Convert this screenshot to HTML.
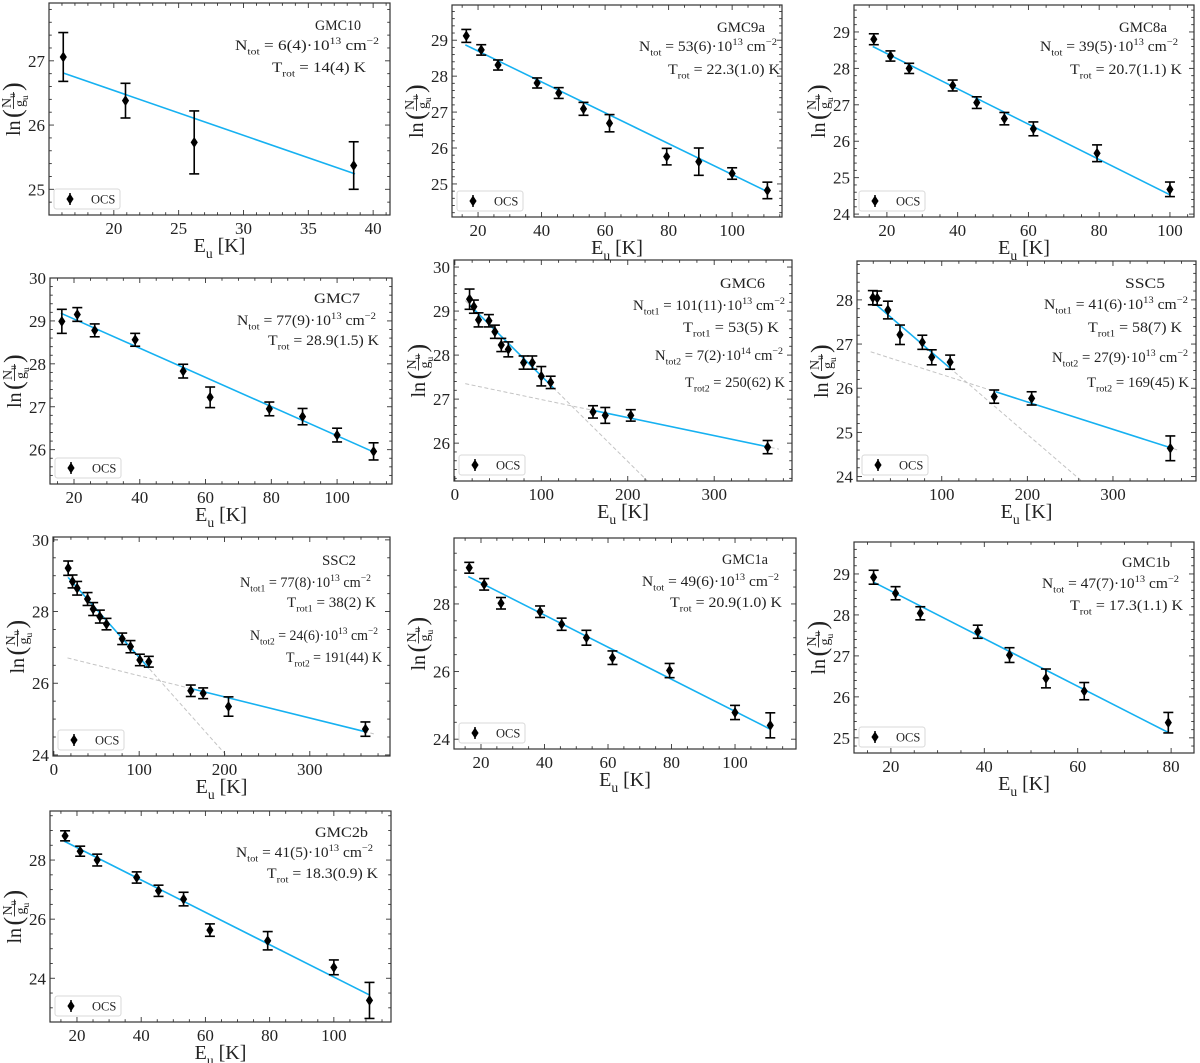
<!DOCTYPE html>
<html><head><meta charset="utf-8">
<style>
html,body{margin:0;padding:0;background:#fff;}
svg{display:block;font-family:"Liberation Serif","DejaVu Serif",serif;}
</style></head>
<body>
<svg id="fig" width="1200" height="1063" viewBox="0 0 1200 1063" xmlns="http://www.w3.org/2000/svg">
<rect x="0" y="0" width="1200" height="1063" fill="#fff"/>
</svg>
<script>
// ---------- data ----------
const gmc10_E=[16.1,20.9,26.2,38.5];
const gmc10_ln=[27.06,26.38,25.73,25.37];
const gmc10_err=[0.38,0.27,0.49,0.37];
const gmc10_fitE=[16.1,38.6];
const gmc10_fitLn=[26.81,25.24];
const gmc10_xticks=[20,25,30,35,40];
const gmc10_yticks=[25,26,27];

const gmc9a_E=[16.3,21.0,26.3,38.6,45.4,53.2,61.4,79.4,89.5,100.0,111.1];
const gmc9a_ln=[29.12,28.73,28.31,27.81,27.53,27.09,26.69,25.76,25.62,25.29,24.82];
const gmc9a_err=[0.18,0.145,0.14,0.14,0.15,0.18,0.24,0.23,0.38,0.16,0.23];
const gmc9a_fitE=[16.0,111.0];
const gmc9a_fitLn=[28.87,24.79];
const gmc9a_xticks=[20,40,60,80,100];
const gmc9a_yticks=[25,26,27,28,29];

const gmc8a_E=[16.3,21.0,26.3,38.6,45.4,53.2,61.4,79.4,100.0];
const gmc8a_ln=[28.80,28.34,28.00,27.53,27.06,26.62,26.34,25.67,24.68];
const gmc8a_err=[0.15,0.14,0.14,0.15,0.16,0.17,0.19,0.23,0.2];
const gmc8a_fitE=[16.0,100.0];
const gmc8a_fitLn=[28.60,24.53];
const gmc8a_xticks=[20,40,60,80,100];
const gmc8a_yticks=[24,25,26,27,28,29];

const gmc7_E=[16.3,21.0,26.3,38.6,53.2,61.4,79.4,89.5,100.0,111.1];
const gmc7_ln=[28.99,29.15,28.78,28.56,27.83,27.22,26.95,26.77,26.34,25.96];
const gmc7_err=[0.28,0.16,0.15,0.15,0.16,0.24,0.16,0.19,0.16,0.2];
const gmc7_fitE=[16.0,111.0];
const gmc7_fitLn=[29.18,25.95];
const gmc7_xticks=[20,40,60,80,100];
const gmc7_yticks=[26,27,28,29,30];

const gmc6_E=[17,22,27.4,39.4,46.3,53.7,61.8,79.5,89.6,100,110.8,159.8,174,203.5,361.8];
const gmc6_ln=[29.27,29.10,28.80,28.78,28.53,28.23,28.13,27.83,27.83,27.52,27.38,26.71,26.63,26.63,25.91];
const gmc6_err=[0.23,0.15,0.16,0.14,0.15,0.15,0.17,0.15,0.15,0.22,0.14,0.14,0.18,0.13,0.15];
const gmc6_slope=[-0.01943,-0.0041];
const gmc6_icpt=[29.47,27.40];
const gmc6_range1=[17,114.3];
const gmc6_range2=[161,362];
const gmc6_dash=[12,375];
const gmc6_xticks=[0,100,200,300];
const gmc6_yticks=[26,27,28,29,30];

const ssc5_E=[19.5,24.6,37.1,51.2,77.3,88.3,109.8,161.3,205,367];
const ssc5_ln=[28.05,28.04,27.77,27.21,27.04,26.70,26.59,25.81,25.77,24.64];
const ssc5_err=[0.16,0.16,0.2,0.22,0.16,0.17,0.16,0.15,0.15,0.28];
const ssc5_slope=[-0.01663,-0.0062];
const ssc5_icpt=[28.28,26.93];
const ssc5_range1=[22.7,110.5];
const ssc5_range2=[163,366];
const ssc5_dash=[17,375];
const ssc5_xticks=[100,200,300];
const ssc5_yticks=[24,25,26,27,28];

const ssc2_E=[16.8,21.9,27.3,39.5,46.1,53.9,61.7,80.1,89.8,100.8,111.3,160.5,175,204.7,365.2];
const ssc2_ln=[29.21,28.84,28.65,28.35,28.07,27.86,27.65,27.24,27.02,26.65,26.60,25.79,25.72,25.35,24.72];
const ssc2_err=[0.2,0.18,0.19,0.18,0.18,0.18,0.16,0.16,0.17,0.16,0.15,0.16,0.15,0.27,0.2];
const ssc2_slope=[-0.02677,-0.0059];
const ssc2_icpt=[29.40,26.80];
const ssc2_range1=[16.8,111.3];
const ssc2_range2=[160.5,366];
const ssc2_dash=[16,375];
const ssc2_xticks=[0,100,200,300];
const ssc2_yticks=[24,26,28,30];

const gmc1a_E=[16.3,21.0,26.3,38.6,45.4,53.2,61.4,79.4,100.0,111.1];
const gmc1a_ln=[29.07,28.58,28.02,27.77,27.40,27.00,26.41,26.03,24.79,24.41];
const gmc1a_err=[0.16,0.17,0.17,0.17,0.18,0.22,0.2,0.21,0.21,0.37];
const gmc1a_fitE=[16.0,111.0];
const gmc1a_fitLn=[28.81,24.30];
const gmc1a_xticks=[20,40,60,80,100];
const gmc1a_yticks=[24,26,28];

const gmc1b_E=[16.3,21.0,26.3,38.6,45.4,53.2,61.4,79.4];
const gmc1b_ln=[28.92,28.53,28.04,27.59,27.02,26.45,26.14,25.37];
const gmc1b_err=[0.17,0.16,0.16,0.16,0.18,0.23,0.21,0.25];
const gmc1b_fitE=[16.3,79.4];
const gmc1b_fitLn=[28.80,25.13];
const gmc1b_xticks=[20,40,60,80];
const gmc1b_yticks=[25,26,27,28,29];

const gmc2b_E=[16.3,21.0,26.3,38.6,45.4,53.2,61.4,79.4,100.0,111.1];
const gmc2b_ln=[28.82,28.30,28.00,27.41,26.96,26.68,25.63,25.27,24.37,23.25];
const gmc2b_err=[0.17,0.17,0.2,0.19,0.19,0.23,0.21,0.31,0.25,0.61];
const gmc2b_fitE=[16.0,111.0];
const gmc2b_fitLn=[28.64,23.44];
const gmc2b_xticks=[20,40,60,80,100];
const gmc2b_yticks=[24,26,28];

// ---------- drawing ----------
const NS='http://www.w3.org/2000/svg';
const svg=document.getElementById('fig');
function mk(tag,parent,name,attrs){
  const el=document.createElementNS(NS,tag);
  for(const k in attrs) el.setAttribute(k,attrs[k]);
  
  
  parent.appendChild(el);
  return el;
}
function rich(textEl,str,fs){
  const re=/(_\{[^}]*\}|\^\{[^}]*\})/;
  const parts=str.split(re).filter(s=>s.length);
  let shift=0;
  parts.forEach(p=>{
    const t=document.createElementNS(NS,'tspan');
    let target=0, txt=p;
    if(p.startsWith('_{')){target=fs*0.3;txt=p.slice(2,-1);t.setAttribute('font-size',fs*0.68);}
    else if(p.startsWith('^{')){target=-fs*0.42;txt=p.slice(2,-1);t.setAttribute('font-size',fs*0.68);}
    t.setAttribute('dy',target-shift);
    shift=target;
    t.textContent=txt;
    textEl.appendChild(t);
  });
}
function panel(id,c,d){
  const g=mk('g',svg,'panel-'+id,{});
  const sx=v=>c.L+(v-c.x0)/(c.x1-c.x0)*(c.R-c.L);
  const sy=v=>c.B-(v-c.y0)/(c.y1-c.y0)*(c.B-c.T);
  const clipId='clip-'+id;
  const defs=mk('defs',g,'clip-defs',{});
  const cp=mk('clipPath',defs,'plot-clip',{id:clipId});
  mk('rect',cp,'clip-rect',{x:c.L,y:c.T,width:c.R-c.L,height:c.B-c.T});
  const plot=mk('g',g,'plot-area',{'clip-path':'url(#'+clipId+')'});
  if(d.fitE){
    mk('line',plot,'fit-line',{x1:sx(d.fitE[0]),y1:sy(d.fitLn[0]),x2:sx(d.fitE[1]),y2:sy(d.fitLn[1]),stroke:'#16b1f1','stroke-width':1.6});
  } else {
    for(let k=0;k<2;k++){
      const f=x=>d.icpt[k]+d.slope[k]*x;
      mk('line',plot,'fit-extension-dashed-'+(k+1),{x1:sx(d.dash[0]),y1:sy(f(d.dash[0])),x2:sx(d.dash[1]),y2:sy(f(d.dash[1])),stroke:'#c4c4c4','stroke-width':1,'stroke-dasharray':'4,2.5'});
    }
    [d.range1,d.range2].forEach((r,k)=>{
      const f=x=>d.icpt[k]+d.slope[k]*x;
      mk('line',plot,'fit-line-component-'+(k+1),{x1:sx(r[0]),y1:sy(f(r[0])),x2:sx(r[1]),y2:sy(f(r[1])),stroke:'#16b1f1','stroke-width':1.6});
    });
  }
  d.E.forEach((e,i)=>{
    const x=sx(e), y=sy(d.ln[i]), yt=sy(d.ln[i]+d.err[i]), yb=sy(d.ln[i]-d.err[i]);
    const pg=mk('g',plot,'data-point-'+i,{});
    mk('line',pg,'error-bar',{x1:x,y1:yt,x2:x,y2:yb,stroke:'#000','stroke-width':1.6});
    mk('line',pg,'error-cap-top',{x1:x-5,y1:yt,x2:x+5,y2:yt,stroke:'#000','stroke-width':1.6});
    mk('line',pg,'error-cap-bottom',{x1:x-5,y1:yb,x2:x+5,y2:yb,stroke:'#000','stroke-width':1.6});
    mk('path',pg,'diamond-marker',{d:`M${x} ${y-5.5}L${x+3.6} ${y}L${x} ${y+5.5}L${x-3.6} ${y}Z`,fill:'#000'});
  });
  mk('rect',g,'axes-frame',{x:c.L,y:c.T,width:c.R-c.L,height:c.B-c.T,fill:'none',stroke:'#333','stroke-width':1.2});
  const tk=mk('g',g,'ticks',{stroke:'#333','stroke-width':0.9});
  const xMinorStart=Math.ceil(c.x0/c.xm)*c.xm;
  for(let v=xMinorStart;v<=c.x1+1e-9;v+=c.xm){
    const x=sx(v);
    const major=d.xticks.some(t=>Math.abs(t-v)<1e-6);
    const len=major?5:2.8;
    mk('line',tk,major?'x-major-tick':'x-minor-tick',{x1:x,y1:c.B,x2:x,y2:c.B-len});
    mk('line',tk,major?'x-major-tick-top':'x-minor-tick-top',{x1:x,y1:c.T,x2:x,y2:c.T+len});
  }
  const yMinorStart=Math.ceil(c.y0/c.ym-1e-9)*c.ym;
  for(let v=yMinorStart;v<=c.y1+1e-9;v+=c.ym){
    const y=sy(v);
    const major=d.yticks.some(t=>Math.abs(t-v)<1e-6);
    const len=major?5:2.8;
    mk('line',tk,major?'y-major-tick':'y-minor-tick',{x1:c.L,y1:y,x2:c.L+len,y2:y});
    mk('line',tk,major?'y-major-tick-right':'y-minor-tick-right',{x1:c.R,y1:y,x2:c.R-len,y2:y});
  }
  d.xticks.forEach(t=>{
    const tx=mk('text',g,'x-tick-label',{x:sx(t),y:c.B+19,'text-anchor':'middle','font-size':17,fill:'#222'});
    tx.textContent=t;
  });
  d.yticks.forEach(t=>{
    const tx=mk('text',g,'y-tick-label',{x:c.L-4,y:sy(t)+6,'text-anchor':'end','font-size':17,fill:'#222'});
    tx.textContent=t;
  });
  const xl=mk('text',g,'x-axis-title',{x:(c.L+c.R)/2,y:c.B+37,'text-anchor':'middle','font-size':20,fill:'#222'});
  rich(xl,'E_{u} [K]',20);
  const yc=(c.T+c.B)/2;
  const yl=mk('g',g,'y-axis-title',{transform:`translate(${c.L-36},${yc}) rotate(-90)`,fill:'#222'});
  const ln=mk('text',yl,'y-title-ln',{x:-27,y:7,'font-size':20});
  ln.textContent='ln';
  const lp=mk('text',yl,'y-title-paren-left',{x:-9,y:8,'font-size':26});
  lp.textContent='(';
  const nu=mk('text',yl,'y-title-numerator',{x:1,y:-2,'font-size':14});
  rich(nu,'N_{u}',14);
  mk('line',yl,'y-title-fraction-bar',{x1:0,y1:0.5,x2:17,y2:0.5,stroke:'#222','stroke-width':0.9});
  const gu=mk('text',yl,'y-title-denominator',{x:2,y:11,'font-size':14});
  rich(gu,'g_{u}',14);
  const rp=mk('text',yl,'y-title-paren-right',{x:18,y:8,'font-size':26});
  rp.textContent=')';
  c.ann.forEach((a,i)=>{
    const t=mk('text',g,i===0?'panel-title':'fit-parameter-text',{x:c.R+a[1],y:c.T+a[2]+5,'text-anchor':'end','font-size':a[0].startsWith('GMC')||a[0].startsWith('SSC')?15:14.5,fill:'#222',textLength:a[3],lengthAdjust:'spacingAndGlyphs'});
    rich(t,a[0],14.5);
  });
  const lg=mk('g',g,'legend',{});
  const lx=c.L+5, lb=c.B-6;
  mk('rect',lg,'legend-box',{x:lx,y:lb-20,width:66,height:20,rx:2.5,fill:'#fff','fill-opacity':0.8,stroke:'#d8d8d8','stroke-width':1});
  const mx=lx+16, my=lb-10;
  mk('line',lg,'legend-error-bar',{x1:mx,y1:my-6,x2:mx,y2:my+6,stroke:'#000','stroke-width':1.5});
  mk('path',lg,'legend-marker',{d:`M${mx} ${my-5.5}L${mx+3.6} ${my}L${mx} ${my+5.5}L${mx-3.6} ${my}Z`,fill:'#000'});
  const lt=mk('text',lg,'legend-label',{x:lx+37,y:my+4.5,'font-size':12.5,fill:'#222'});
  lt.textContent='OCS';
}

panel('gmc10',{L:49,T:3,R:390,B:215,x0:15.0,x1:41.3,y0:24.6,y1:27.9,xm:1,ym:0.2,
  ann:[['GMC10',-29,22,46],['N_{tot} = 6(4)·10^{13} cm^{−2}',-11,42,144],['T_{rot} = 14(4) K',-24,64,94]]},
  {E:gmc10_E,ln:gmc10_ln,err:gmc10_err,fitE:gmc10_fitE,fitLn:gmc10_fitLn,xticks:gmc10_xticks,yticks:gmc10_yticks});
panel('gmc9a',{L:452,T:5,R:782,B:217,x0:11.8,x1:115.7,y0:24.08,y1:29.98,xm:5,ym:0.2,
  ann:[['GMC9a',-17,22,48],['N_{tot} = 53(6)·10^{13} cm^{−2}',-5,41,138],['T_{rot} = 22.3(1.0) K',-2,64,112]]},
  {E:gmc9a_E,ln:gmc9a_ln,err:gmc9a_err,fitE:gmc9a_fitE,fitLn:gmc9a_fitLn,xticks:gmc9a_xticks,yticks:gmc9a_yticks});
panel('gmc8a',{L:854,T:5,R:1194,B:217,x0:10.7,x1:106.8,y0:23.92,y1:29.74,xm:5,ym:0.2,
  ann:[['GMC8a',-27,22,48],['N_{tot} = 39(5)·10^{13} cm^{−2}',-16,41,138],['T_{rot} = 20.7(1.1) K',-12,64,112]]},
  {E:gmc8a_E,ln:gmc8a_ln,err:gmc8a_err,fitE:gmc8a_fitE,fitLn:gmc8a_fitLn,xticks:gmc8a_xticks,yticks:gmc8a_yticks});
panel('gmc7',{L:50,T:278,R:392,B:484,x0:12.7,x1:116.7,y0:25.2,y1:30.0,xm:5,ym:0.2,
  ann:[['GMC7',-32,20,46],['N_{tot} = 77(9)·10^{13} cm^{−2}',-16,42,139],['T_{rot} = 28.9(1.5) K',-13,62,111]]},
  {E:gmc7_E,ln:gmc7_ln,err:gmc7_err,fitE:gmc7_fitE,fitLn:gmc7_fitLn,xticks:gmc7_xticks,yticks:gmc7_yticks});
panel('gmc6',{L:454,T:260,R:792,B:481,x0:-1,x1:390,y0:25.14,y1:30.16,xm:20,ym:0.2,
  ann:[['GMC6',-27,23,45],['N_{tot1} = 101(11)·10^{13} cm^{−2}',-7,45,152],['T_{rot1} = 53(5) K',-13,67,96],['N_{tot2} = 7(2)·10^{14} cm^{−2}',-9,95,128],['T_{rot2} = 250(62) K',-7,122,100]]},
  {E:gmc6_E,ln:gmc6_ln,err:gmc6_err,slope:gmc6_slope,icpt:gmc6_icpt,range1:gmc6_range1,range2:gmc6_range2,dash:gmc6_dash,xticks:gmc6_xticks,yticks:gmc6_yticks});
panel('ssc5',{L:857,T:261,R:1196,B:481,x0:1,x1:397,y0:23.9,y1:28.88,xm:20,ym:0.2,
  ann:[['SSC5',-31,22,40],['N_{tot1} = 41(6)·10^{13} cm^{−2}',-8,43,144],['T_{rot1} = 58(7) K',-14,66,94],['N_{tot2} = 27(9)·10^{13} cm^{−2}',-8,96,136],['T_{rot2} = 169(45) K',-7,121,102]]},
  {E:ssc5_E,ln:ssc5_ln,err:ssc5_err,slope:ssc5_slope,icpt:ssc5_icpt,range1:ssc5_range1,range2:ssc5_range2,dash:ssc5_dash,xticks:ssc5_xticks,yticks:ssc5_yticks});
panel('ssc2',{L:53,T:537,R:390,B:756,x0:-1,x1:394,y0:23.97,y1:30.08,xm:20,ym:0.5,
  ann:[['SSC2',-34,23,34],['N_{tot1} = 77(8)·10^{13} cm^{−2}',-19,45,131],['T_{rot1} = 38(2) K',-14,65,89],['N_{tot2} = 24(6)·10^{13} cm^{−2}',-12,98,128],['T_{rot2} = 191(44) K',-8,120,96]]},
  {E:ssc2_E,ln:ssc2_ln,err:ssc2_err,slope:ssc2_slope,icpt:ssc2_icpt,range1:ssc2_range1,range2:ssc2_range2,dash:ssc2_dash,xticks:ssc2_xticks,yticks:ssc2_yticks});
panel('gmc1a',{L:454,T:538,R:796,B:749,x0:11.5,x1:119.2,y0:23.71,y1:29.95,xm:5,ym:0.5,
  ann:[['GMC1a',-28,21,46],['N_{tot} = 49(6)·10^{13} cm^{−2}',-17,43,137],['T_{rot} = 20.9(1.0) K',-14,64,112]]},
  {E:gmc1a_E,ln:gmc1a_ln,err:gmc1a_err,fitE:gmc1a_fitE,fitLn:gmc1a_fitLn,xticks:gmc1a_xticks,yticks:gmc1a_yticks});
panel('gmc1b',{L:854,T:542,R:1194,B:753,x0:12.1,x1:84.9,y0:24.63,y1:29.78,xm:5,ym:0.2,
  ann:[['GMC1b',-24,20,48],['N_{tot} = 47(7)·10^{13} cm^{−2}',-15,41,137],['T_{rot} = 17.3(1.1) K',-11,63,113]]},
  {E:gmc1b_E,ln:gmc1b_ln,err:gmc1b_err,fitE:gmc1b_fitE,fitLn:gmc1b_fitLn,xticks:gmc1b_xticks,yticks:gmc1b_yticks});
panel('gmc2b',{L:50,T:811,R:391,B:1022,x0:11.6,x1:117.8,y0:22.52,y1:29.66,xm:5,ym:0.5,
  ann:[['GMC2b',-23,21,53],['N_{tot} = 41(5)·10^{13} cm^{−2}',-18,41,137],['T_{rot} = 18.3(0.9) K',-13,62,111]]},
  {E:gmc2b_E,ln:gmc2b_ln,err:gmc2b_err,fitE:gmc2b_fitE,fitLn:gmc2b_fitLn,xticks:gmc2b_xticks,yticks:gmc2b_yticks});
</script>
</body></html>
